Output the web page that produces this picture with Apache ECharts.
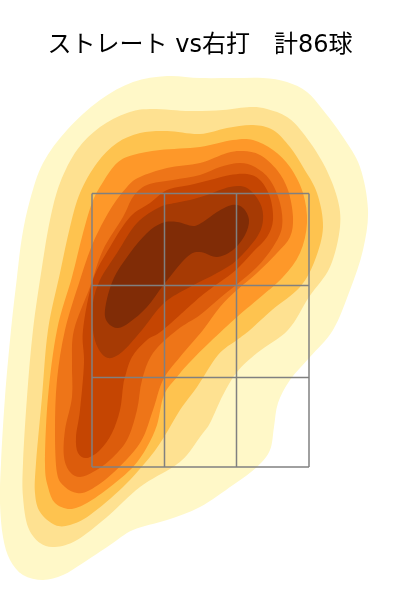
<!DOCTYPE html>
<html>
<head>
<meta charset="utf-8">
<title>ストレート vs右打</title>
<script src="https://cdn.jsdelivr.net/npm/echarts@6/dist/echarts.min.js"></script>
<style>
html, body { margin: 0; padding: 0; background: #fff; }
#main { width: 400px; height: 600px; }
</style>
</head>
<body>
<div id="main"></div>
<script>
// contour outlines, outermost first
var level1 = [[167,76],[133,82],[100,100],[67,130],[43,163],[30,200],[22,237],[17,277],[11,330],[5,397],[1,463],[0,503],[3,537],[10,560],[23,575],[43,580],[63,575],[83,563],[110,545],[133,530],[167,520],[200,507],[233,485],[257,467],[270,450],[274,427],[278,403],[290,380],[310,357],[333,330],[350,290],[363,250],[368,210],[360,167],[343,137],[323,110],[307,92],[287,82],[263,78],[233,78],[200,78]];
var level2 = [[150,109],[127,113],[100,127],[77,150],[60,183],[50,220],[42,267],[33,330],[27,397],[23,463],[23,497],[28,527],[40,543],[55,547],[77,540],[107,517],[140,487],[173,467],[187,455],[200,437],[210,423],[223,395],[237,372],[257,353],[288,330],[309,297],[330,267],[340,227],[337,197],[323,163],[303,133],[287,117],[267,109],[250,107],[223,110],[190,111]];
var level3 = [[167,131],[140,133],[117,143],[97,163],[80,193],[70,227],[60,273],[48,330],[42,397],[36,463],[35,493],[40,512],[55,525],[70,525],[90,515],[123,487],[150,457],[164,437],[180,410],[197,387],[218,355],[237,340],[250,330],[272,310],[300,287],[315,260],[323,227],[317,193],[303,167],[290,147],[273,130],[253,125],[227,128],[200,134]];
var level4 = [[160,150],[133,155],[117,163],[103,182],[92,203],[82,237],[72,277],[57,330],[48,397],[45,463],[48,487],[55,503],[70,509],[87,503],[110,487],[133,467],[147,447],[157,425],[164,395],[177,377],[190,362],[210,342],[237,317],[257,300],[283,277],[300,253],[307,223],[303,193],[290,167],[273,150],[253,140],[233,140],[200,147]];
var level5 = [[167,168],[140,177],[127,187],[110,210],[93,243],[80,280],[65,330],[57,380],[55,430],[57,473],[65,487],[77,493],[90,490],[113,473],[140,443],[153,410],[163,380],[180,357],[203,330],[220,307],[237,290],[257,273],[277,253],[290,237],[293,217],[288,190],[277,170],[260,155],[243,151],[227,153],[200,163]];
var level6 = [[173,180],[147,185],[133,197],[123,217],[103,250],[90,287],[74,330],[72,363],[72,397],[65,430],[64,457],[70,472],[80,477],[93,472],[110,460],[127,440],[137,410],[142,380],[153,353],[177,330],[200,315],[220,298],[236,285],[257,267],[273,247],[282,227],[280,203],[270,180],[255,167],[240,163],[220,167],[200,175]];
var level7 = [[167,190],[150,203],[130,217],[110,247],[93,280],[83,330],[84,363],[80,410],[76,437],[78,453],[87,458],[100,450],[112,433],[120,410],[123,387],[125,377],[132,357],[147,340],[163,330],[200,297],[220,282],[236,270],[253,252],[267,237],[273,220],[270,197],[260,180],[247,174],[230,175],[210,180],[190,185]];
var level8 = [[160,207],[137,223],[117,253],[100,280],[93,303],[93,330],[98,348],[108,358],[122,352],[142,330],[164,303],[190,287],[217,273],[237,260],[257,237],[263,220],[260,203],[247,188],[230,187],[207,195],[190,200],[175,203]];
var level9 = [[105,310],[108,323],[118,328],[130,322],[147,307],[165,283],[187,257],[200,252],[217,257],[233,250],[245,235],[249,220],[243,208],[232,205],[217,212],[203,222],[193,226],[177,222],[162,223],[147,233],[130,253],[113,280]];

var levels = [level1, level2, level3, level4, level5, level6, level7, level8, level9];
var levelColors = ['#fff8c8', '#fee191', '#fec34f', '#fe9829', '#ee7518', '#dc5c0c', '#c54502', '#a63a04', '#802c06'];

// strike zone lines
var zoneX = [92, 164.5, 236.5, 309];
var zoneY = [193.5, 285.5, 377.5, 467];

var chart = echarts.init(document.getElementById('main'), null, { renderer: 'canvas' });

// closed curve through the mapped points (catmull-rom as bezier)
function curvePath(pts) {
    var n = pts.length;
    var d = 'M' + pts[0][0] + ' ' + pts[0][1];
    for (var i = 0; i < n; i++) {
        var p0 = pts[(i - 1 + n) % n], p1 = pts[i], p2 = pts[(i + 1) % n], p3 = pts[(i + 2) % n];
        d += 'C' + (p1[0] + (p2[0] - p0[0]) / 6) + ' ' + (p1[1] + (p2[1] - p0[1]) / 6) + ' '
            + (p2[0] - (p3[0] - p1[0]) / 6) + ' ' + (p2[1] - (p3[1] - p1[1]) / 6) + ' '
            + p2[0] + ' ' + p2[1];
    }
    return d + 'Z';
}

var series = [{
    type: 'custom',
    silent: true,
    coordinateSystem: 'cartesian2d',
    data: levels.map(function (l, i) { return [i]; }),
    renderItem: function (params, api) {
        var i = api.value(0);
        return {
            type: 'path',
            shape: { pathData: curvePath(levels[i].map(function (p) { return api.coord(p); })) },
            style: { fill: levelColors[i], stroke: null }
        };
    },
    z: 1
}];

function zoneLine(a, b) {
    series.push({
        type: 'line',
        silent: true,
        symbol: 'none',
        data: [a, b],
        lineStyle: { color: '#808080', width: 1.5 },
        z: 2
    });
}
zoneX.forEach(function (x) { zoneLine([x, zoneY[0]], [x, zoneY[3]]); });
zoneY.forEach(function (y) { zoneLine([zoneX[0], y], [zoneX[3], y]); });

chart.setOption({
    animation: false,
    title: {
        text: 'ストレート vs右打　計86球',
        left: 'center',
        top: 29,
        textStyle: { fontFamily: '"DejaVu Sans", "Noto Sans CJK JP"', fontSize: 24, fontWeight: 'normal', color: '#000' }
    },
    grid: { left: 0, right: 0, top: 0, bottom: 0 },
    xAxis: { type: 'value', min: 0, max: 400, show: false },
    yAxis: { type: 'value', min: 0, max: 600, inverse: true, show: false },
    series: series
});
</script>
</body>
</html>
